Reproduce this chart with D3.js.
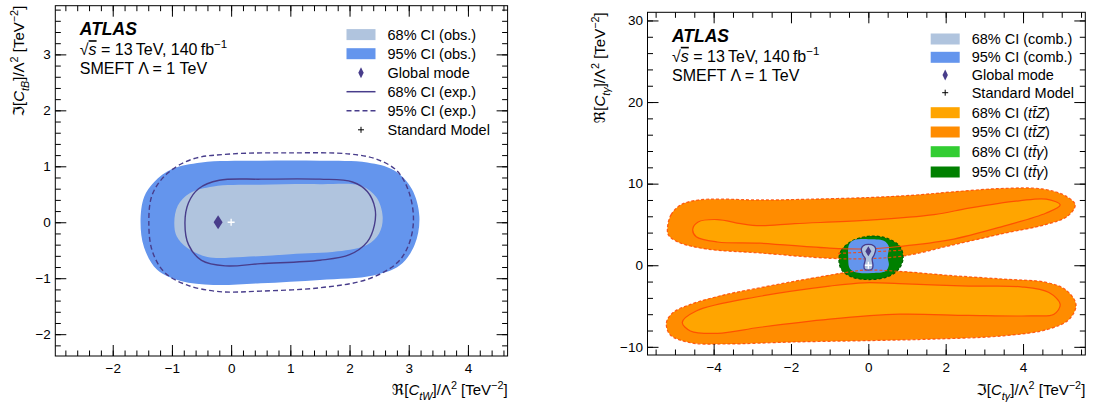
<!DOCTYPE html>
<html><head><meta charset="utf-8">
<script src="https://cdn.jsdelivr.net/npm/d3@7"></script>
<style>
body{margin:0;background:#fff}
svg{display:block}
text{font-family:"Liberation Sans",Arial,"DejaVu Sans",sans-serif;fill:#000}
</style>
</head><body>
<svg id="c" width="1094" height="408"></svg>
<script>
// ---------------- DATA ----------------
// Left panel: Re[CtW] (x) vs Im[CtB] (y)
const leftXTicks = [-2, -1, 0, 1, 2, 3, 4];
const leftYTicks = [-2, -1, 0, 1, 2, 3];
const leftObs95 = [[-1.53,0.0],[-1.47,0.45],[-1.3,0.72],[-1.0,0.95],[-0.5,1.07],[0.5,1.1],[1.5,1.1],[2.3,1.07],[2.75,0.93],[3.05,0.6],[3.18,0.1],[3.1,-0.4],[2.85,-0.77],[2.4,-0.95],[1.5,-1.03],[0.5,-1.09],[-0.3,-1.12],[-0.85,-1.05],[-1.25,-0.85],[-1.47,-0.45]];
const leftObs68 = [[-0.96,0.0],[-0.9,0.3],[-0.7,0.52],[-0.3,0.64],[0.5,0.67],[1.5,0.68],[2.2,0.65],[2.45,0.45],[2.56,0.1],[2.5,-0.2],[2.3,-0.4],[1.8,-0.52],[1.0,-0.57],[0.2,-0.62],[-0.4,-0.62],[-0.75,-0.45],[-0.92,-0.25]];
const leftExp68 = [[-0.78,0.0],[-0.72,0.35],[-0.55,0.6],[-0.2,0.75],[0.5,0.77],[1.5,0.77],[2.05,0.72],[2.3,0.55],[2.43,0.25],[2.42,-0.05],[2.3,-0.35],[2.0,-0.58],[1.5,-0.68],[0.5,-0.74],[-0.1,-0.78],[-0.5,-0.68],[-0.72,-0.4]];
const leftExp95 = [[-1.39,0.0],[-1.33,0.5],[-1.08,0.87],[-0.65,1.13],[0.0,1.22],[1.0,1.24],[2.0,1.22],[2.45,1.13],[2.8,0.92],[3.0,0.55],[3.08,0.05],[3.0,-0.4],[2.8,-0.73],[2.3,-1.02],[1.5,-1.17],[0.5,-1.23],[-0.2,-1.24],[-0.75,-1.12],[-1.12,-0.9],[-1.33,-0.52]];
const leftMode = [-0.22, 0.0];
const leftSM = [0, 0];
const leftLegend = ["68% CI (obs.)", "95% CI (obs.)", "Global mode", "68% CI (exp.)", "95% CI (exp.)", "Standard Model"];

// Right panel: Im[Cty] (x) vs Re[Cty] (y)
const rightXTicks = [-4, -2, 0, 2, 4];
const rightYTicks = [-10, 0, 10, 20, 30];
const ttZ95Upper = [[-5.19,4.8],[-5.1,6.2],[-4.85,7.4],[-4.4,8.0],[-3.8,8.1],[-2.8,8.0],[-1.5,8.1],[0.0,8.3],[1.2,8.6],[2.2,9.0],[3.4,9.4],[4.5,9.35],[5.1,8.5],[5.35,7.4],[5.15,6.0],[4.6,5.0],[3.5,3.9],[2.2,2.5],[1.0,1.2],[0.0,0.8],[-1.0,0.85],[-2.8,1.5],[-4.2,2.0],[-4.9,2.8],[-5.17,3.7]];
const ttZ68Upper = [[-4.54,4.4],[-4.4,5.3],[-3.9,5.6],[-3.3,5.1],[-2.8,4.85],[-1.9,5.1],[-0.1,5.5],[1.7,6.2],[2.6,7.0],[3.9,7.9],[4.6,8.1],[4.96,7.4],[4.6,6.4],[3.5,4.8],[2.1,3.1],[0.8,2.3],[-0.1,2.0],[-1.0,2.1],[-2.8,2.7],[-3.9,2.85],[-4.45,3.5]];
const ttZ95Lower = [[-0.6,-0.9],[-0.1,-0.6],[0.8,-0.75],[2.1,-1.25],[3.5,-1.7],[4.6,-2.1],[5.1,-3.0],[5.37,-4.8],[5.2,-6.6],[4.65,-7.85],[3.5,-8.65],[1.7,-9.05],[-0.1,-9.25],[-1.9,-9.4],[-3.7,-9.65],[-4.6,-9.5],[-5.13,-8.5],[-5.22,-7.0],[-5.05,-5.8],[-4.6,-4.8],[-3.7,-3.6],[-2.8,-2.75],[-1.9,-1.95],[-1.1,-1.3]];
const ttZ68Lower = [[-4.81,-7.0],[-4.45,-5.6],[-2.8,-3.8],[-1.0,-2.55],[-0.1,-2.15],[0.8,-2.25],[2.6,-2.55],[3.95,-2.65],[4.67,-3.35],[4.96,-4.8],[4.8,-6.0],[4.2,-6.2],[2.6,-6.15],[0.8,-6.0],[-1.0,-6.6],[-2.8,-7.6],[-3.9,-8.35],[-4.6,-8.05]];
const ttZ95Inner = [[-0.78,1.45],[0.0,1.62],[0.9,1.85]];
const tty95 = [[-0.76,0.7],[-0.7,1.8],[-0.45,2.9],[0.0,3.55],[0.45,3.35],[0.8,2.4],[0.9,1.0],[0.8,-0.4],[0.5,-1.4],[0.0,-1.75],[-0.45,-1.4],[-0.7,-0.5]];
const comb95 = [[-0.5,2.5],[-0.38,3.05],[0.0,3.2],[0.4,3.0],[0.53,2.3],[0.5,1.0],[0.53,0.0],[0.45,-0.7],[0.1,-0.95],[-0.3,-0.9],[-0.48,-0.4],[-0.52,1.0]];
const comb68 = [[0.0,2.55],[0.14,2.4],[0.19,2.0],[0.15,1.25],[0.1,0.8],[0.12,0.0],[0.1,-0.45],[0.0,-0.6],[-0.1,-0.45],[-0.11,0.0],[-0.08,0.8],[-0.14,1.25],[-0.18,2.0],[-0.13,2.4]];
const rightMode = [0.0, 1.7];
const rightSM = [0, 0];
const rightLegend = ["68% CI (comb.)", "95% CI (comb.)", "Global mode", "Standard Model", "68% CI (ttZ)", "95% CI (ttZ)", "68% CI (tty)", "95% CI (tty)"];

// ---------------- STYLE ----------------
const C = {light:"#b0c4de", blue:"#6495ed", purple:"#483d8b", or68:"#ffa500", or95:"#ff8c00", red:"#ff4500", g68:"#32cd32", g95:"#008000", g95line:"#006000"};
const svg = d3.select("#c");

function rich(sel, segs, size) {
  let shift = 0;
  segs.forEach(([t, k]) => {
    const ts = sel.append("tspan").text(t);
    let target = 0, fs = size;
    if (k.includes("i")) ts.attr("font-style", "italic");
    if (k.includes("sub")) { target = size * 0.3; fs = size * 0.72; }
    if (k.includes("sup")) { target = -size * 0.42; fs = size * 0.72; }
    if (k.includes("ol")) ts.style("text-decoration", "overline");
    ts.attr("font-size", fs);
    if (target !== shift) { ts.attr("dy", target - shift); shift = target; }
  });
  return sel;
}

function panel(o) {
  const sx = d3.scaleLinear().domain(o.xd).range(o.xr);
  const sy = d3.scaleLinear().domain(o.yd).range(o.yr);
  const g = svg.append("g");
  const closed = d3.line().x(d => sx(d[0])).y(d => sy(d[1])).curve(d3.curveCatmullRomClosed.alpha(0.5));
  const open = d3.line().x(d => sx(d[0])).y(d => sy(d[1])).curve(d3.curveCatmullRom.alpha(0.5));
  const clipId = "clip" + o.id;
  svg.append("clipPath").attr("id", clipId).append("rect")
    .attr("x", o.xr[0]).attr("y", o.yr[1]).attr("width", o.xr[1]-o.xr[0]).attr("height", o.yr[0]-o.yr[1]);
  const plot = g.append("g").attr("clip-path", `url(#${clipId})`);
  o.draw(plot, sx, sy, closed, open);

  // axes (inward ticks)
  const fmt = d3.format("d");
  const axStyle = a => {
    a.select(".domain").remove();
    a.selectAll(".tick line").attr("stroke", "#000").attr("stroke-width", 1);
    a.selectAll("text").attr("font-size", 13.5).attr("font-family", '"Liberation Sans",Arial,sans-serif').attr("fill", "#000");
  };
  const xMinor = d3.range(Math.ceil(o.xd[0]/o.xm)*o.xm, o.xd[1], o.xm).map(v => +v.toFixed(3));
  const yMinor = d3.range(Math.ceil(o.yd[0]/o.ym)*o.ym, o.yd[1], o.ym).map(v => +v.toFixed(3));
  const yb = o.yr[0], yt = o.yr[1], xl = o.xr[0], xrr = o.xr[1];
  g.append("g").attr("transform", `translate(0,${yb})`).call(d3.axisBottom(sx).tickValues(o.xt).tickSize(-11).tickSizeOuter(0).tickPadding(7).tickFormat(d => fmt(d).replace("-", "\u2212"))).call(axStyle);
  g.append("g").attr("transform", `translate(0,${yb})`).call(d3.axisBottom(sx).tickValues(xMinor).tickSize(-5.5).tickSizeOuter(0).tickFormat("")).call(axStyle);
  g.append("g").attr("transform", `translate(0,${yt})`).call(d3.axisTop(sx).tickValues(o.xt).tickSize(-11).tickSizeOuter(0).tickFormat("")).call(axStyle);
  g.append("g").attr("transform", `translate(0,${yt})`).call(d3.axisTop(sx).tickValues(xMinor).tickSize(-5.5).tickSizeOuter(0).tickFormat("")).call(axStyle);
  g.append("g").attr("transform", `translate(${xl},0)`).call(d3.axisLeft(sy).tickValues(o.yt).tickSize(-11).tickSizeOuter(0).tickPadding(4.5).tickFormat(d => fmt(d).replace("-", "\u2212"))).call(axStyle);
  g.append("g").attr("transform", `translate(${xl},0)`).call(d3.axisLeft(sy).tickValues(yMinor).tickSize(-5.5).tickSizeOuter(0).tickFormat("")).call(axStyle);
  g.append("g").attr("transform", `translate(${xrr},0)`).call(d3.axisRight(sy).tickValues(o.yt).tickSize(-11).tickSizeOuter(0).tickFormat("")).call(axStyle);
  g.append("g").attr("transform", `translate(${xrr},0)`).call(d3.axisRight(sy).tickValues(yMinor).tickSize(-5.5).tickSizeOuter(0).tickFormat("")).call(axStyle);
  g.append("rect").attr("x", xl).attr("y", yt).attr("width", xrr-xl).attr("height", yb-yt)
    .attr("fill", "none").attr("stroke", "#000").attr("stroke-width", 1);

  // axis titles
  rich(g.append("text").attr("x", xrr).attr("y", 395).attr("text-anchor", "end").attr("font-size", 15), o.xtitle, 15);
  rich(g.append("text").attr("transform", `translate(${o.ytx},${yt}) rotate(-90)`).attr("text-anchor", "end").attr("font-size", 15), o.ytitle, 15);

  // ATLAS label
  const tx = xl + 24.5, ty = yt + 29.5;
  g.append("text").attr("x", tx).attr("y", ty).attr("font-size", 17.5).attr("font-weight", "bold").attr("font-style", "italic").text("ATLAS");
  rich(g.append("text").attr("x", tx).attr("y", ty + 20).attr("font-size", 16), [["\u221A", ""], ["s", "iol"], [" = 13\u2009TeV, 140\u2009fb", ""], ["\u22121", "sup"]], 16);
  g.append("text").attr("x", tx).attr("y", ty + 39).attr("font-size", 16).text("SMEFT \u039B = 1 TeV");

  // legend
  o.legend.forEach((e, i) => {
    const cy = o.ly[i];
    const lg = g.append("g");
    if (e.type === "box") lg.append("rect").attr("x", o.lx).attr("y", cy - 5.5).attr("width", 29).attr("height", 11).attr("fill", e.color);
    if (e.type === "line") lg.append("line").attr("x1", o.lx).attr("x2", o.lx + 29).attr("y1", cy).attr("y2", cy).attr("stroke", e.color).attr("stroke-width", 1.5).attr("stroke-dasharray", e.dash || null);
    if (e.type === "diamond") lg.append("path").attr("d", `M${o.lx+14.5},${cy-5.5}L${o.lx+17.2},${cy}L${o.lx+14.5},${cy+5.5}L${o.lx+11.8},${cy}Z`).attr("fill", C.purple);
    if (e.type === "cross") lg.append("path").attr("d", `M${o.lx+11.5},${cy}H${o.lx+17.5}M${o.lx+14.5},${cy-3}V${cy+3}`).attr("stroke", "#000").attr("stroke-width", 1);
    rich(lg.append("text").attr("x", o.lx + 41).attr("y", cy + 5).attr("font-size", 14.5), e.segs, 14.5);
  });
}

function marker(p, x, y, w, h, color) {
  p.append("path").attr("d", `M${x},${y-h/2}L${x+w/2},${y}L${x},${y+h/2}L${x-w/2},${y}Z`).attr("fill", color);
}
function cross(p, x, y, s, color, sw) {
  p.append("path").attr("d", `M${x-s},${y}H${x+s}M${x},${y-s}V${y+s}`).attr("stroke", color).attr("stroke-width", sw);
}

// ---------- LEFT PANEL ----------
panel({
  id: "L", xd: [-2.97, 4.67], xr: [55.3, 507.6], yd: [-2.39, 3.87], yr: [356, 5.7],
  xt: leftXTicks, yt: leftYTicks, xm: 0.2, ym: 0.2, ytx: 24,
  xtitle: [["\u211C[", ""], ["C", "i"], ["tW", "isub"], ["]/\u039B", ""], ["2", "sup"], [" [TeV", ""], ["\u22122", "sup"], ["]", ""]],
  ytitle: [["\u2111[", ""], ["C", "i"], ["tB", "isub"], ["]/\u039B", ""], ["2", "sup"], [" [TeV", ""], ["\u22122", "sup"], ["]", ""]],
  lx: 346.5, ly: [34.6, 53.7, 72.7, 91.7, 110.8, 129.8],
  legend: [
    {type: "box", color: C.light, segs: [[leftLegend[0], ""]]},
    {type: "box", color: C.blue, segs: [[leftLegend[1], ""]]},
    {type: "diamond", segs: [[leftLegend[2], ""]]},
    {type: "line", color: C.purple, segs: [[leftLegend[3], ""]]},
    {type: "line", color: C.purple, dash: "5,3", segs: [[leftLegend[4], ""]]},
    {type: "cross", segs: [[leftLegend[5], ""]]}
  ],
  draw: (p, sx, sy, closed) => {
    p.append("path").attr("d", closed(leftObs95)).attr("fill", C.blue);
    p.append("path").attr("d", closed(leftObs68)).attr("fill", C.light);
    p.append("path").attr("d", closed(leftExp95)).attr("fill", "none").attr("stroke", C.purple).attr("stroke-width", 1.4).attr("stroke-dasharray", "5,3");
    p.append("path").attr("d", closed(leftExp68)).attr("fill", "none").attr("stroke", C.purple).attr("stroke-width", 1.4);
    marker(p, sx(leftMode[0]), sy(leftMode[1]), 9, 14, C.purple);
    cross(p, sx(leftSM[0]), sy(leftSM[1]), 3.5, "#fff", 1.3);
  }
});

// ---------- RIGHT PANEL ----------
panel({
  id: "R", xd: [-5.71, 5.61], xr: [647.5, 1085.3], yd: [-11, 31], yr: [355, 12.3],
  xt: rightXTicks, yt: rightYTicks, xm: 0.5, ym: 2, ytx: 605,
  xtitle: [["\u2111[", ""], ["C", "i"], ["t\u03B3", "isub"], ["]/\u039B", ""], ["2", "sup"], [" [TeV", ""], ["\u22122", "sup"], ["]", ""]],
  ytitle: [["\u211C[", ""], ["C", "i"], ["t\u03B3", "isub"], ["]/\u039B", ""], ["2", "sup"], [" [TeV", ""], ["\u22122", "sup"], ["]", ""]],
  lx: 930.7, ly: [39, 57.3, 75, 92.7, 112.7, 132, 151.7, 172],
  legend: [
    {type: "box", color: C.light, segs: [[rightLegend[0], ""]]},
    {type: "box", color: C.blue, segs: [[rightLegend[1], ""]]},
    {type: "diamond", segs: [[rightLegend[2], ""]]},
    {type: "cross", segs: [[rightLegend[3], ""]]},
    {type: "box", color: C.or68, segs: [["68% CI (", ""], ["tt\u0304Z", "i"], [")", ""]]},
    {type: "box", color: C.or95, segs: [["95% CI (", ""], ["tt\u0304Z", "i"], [")", ""]]},
    {type: "box", color: C.g68, segs: [["68% CI (", ""], ["tt\u0304\u03B3", "i"], [")", ""]]},
    {type: "box", color: C.g95, segs: [["95% CI (", ""], ["tt\u0304\u03B3", "i"], [")", ""]]}
  ],
  draw: (p, sx, sy, closed, open) => {
    [ttZ95Upper, ttZ95Lower].forEach(s => p.append("path").attr("d", closed(s)).attr("fill", C.or95));
    [ttZ68Upper, ttZ68Lower].forEach(s => p.append("path").attr("d", closed(s)).attr("fill", C.or68));
    p.append("path").attr("d", closed(tty95)).attr("fill", C.g95).attr("stroke", C.g95line).attr("stroke-width", 1.2).attr("stroke-dasharray", "3,2");
    p.append("path").attr("d", closed(comb95)).attr("fill", C.blue);
    [ttZ95Upper, ttZ95Lower].forEach(s => p.append("path").attr("d", closed(s)).attr("fill", "none").attr("stroke", C.red).attr("stroke-width", 1.2).attr("stroke-dasharray", "3,2").attr("opacity", 0.85));
    p.append("path").attr("d", open(ttZ95Inner)).attr("fill", "none").attr("stroke", C.red).attr("stroke-width", 1.2).attr("stroke-dasharray", "3,2").attr("opacity", 0.85);
    [ttZ68Upper, ttZ68Lower].forEach(s => p.append("path").attr("d", closed(s)).attr("fill", "none").attr("stroke", C.red).attr("stroke-width", 1.2).attr("opacity", 0.85));
    p.append("path").attr("d", closed(comb68)).attr("fill", C.light).attr("stroke", C.purple).attr("stroke-width", 1.3);
    marker(p, sx(rightMode[0]), sy(rightMode[1]), 6, 10, C.purple);
    cross(p, sx(rightSM[0]), sy(rightSM[1]), 3.5, "#fff", 1.3);
  }
});
</script>
</body></html>
